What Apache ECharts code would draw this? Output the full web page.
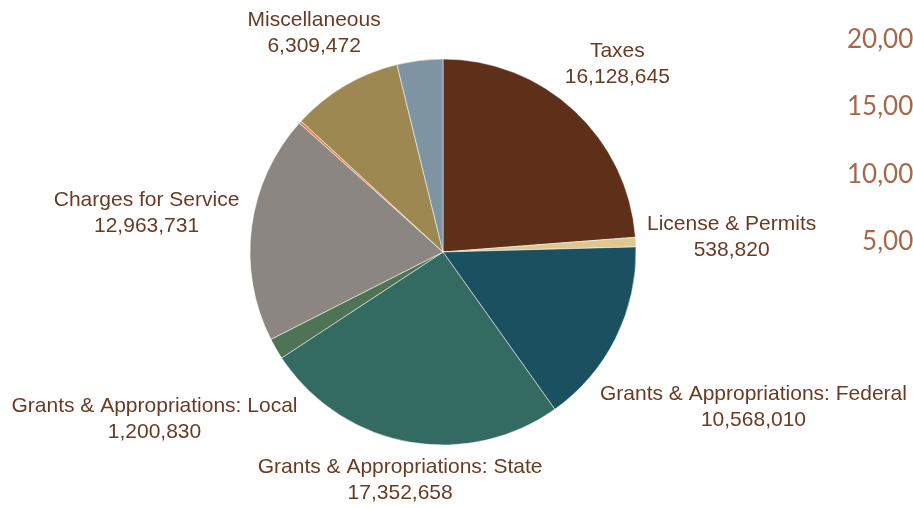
<!DOCTYPE html>
<html>
<head>
<meta charset="utf-8">
<script src="https://cdn.jsdelivr.net/npm/echarts@6/dist/echarts.min.js"></script>
<style>
  html, body { margin: 0; padding: 0; background: #ffffff; }
  #chart { width: 913px; height: 508px; }
</style>
</head>
<body>
<div id="chart"></div>
<script>
// Revenue sources (dollars)
const categories = [
  'Taxes',
  'License & Permits',
  'Grants & Appropriations: Federal',
  'Grants & Appropriations: State',
  'Grants & Appropriations: Local',
  'Charges for Service',
  'Fines & Forfeitures',
  'Miscellaneous',
  'Investment Earnings'
];
const amounts = [16128645, 538820, 10568010, 17352658, 1200830, 12963731, 150000, 6309472, 2600000];
const showLabel = [true, true, true, true, true, true, false, true, false];
const sliceColors = ['#5e3019', '#dfc78f', '#1b5061', '#336a61', '#4e7355', '#8b8681', '#d98a55', '#9e8852', '#7e94a2'];

// Value axis of the neighbouring chart
const axisTicks = [0, 5000000, 10000000, 15000000, 20000000];

const PIE_CX = 443, PIE_CY = 252, PIE_R = 193;
const LABEL_CLEAR = PIE_R + 11;
const LABEL_FONT = 21;
const LABEL_LINE = 26;
const AXIS_FONT = 26;
const AXIS_FONT_FAMILY = 'Lato';
const AXIS_FONT_WEIGHT = 400;

const total = amounts.reduce((a, b) => a + b, 0);
const midAngles = [];
(function () {
  let cum = 0;
  amounts.forEach(v => {
    midAngles.push((cum + v / 2) / total * Math.PI * 2);
    cum += v;
  });
})();

// Push each label out along its slice's mid ray until its box clears the pie
function placeLabel(idx, w, h) {
  const ux = Math.sin(midAngles[idx]);
  const uy = -Math.cos(midAngles[idx]);
  const hw = w / 2, hh = h / 2;
  let d = 0;
  for (; d < 600; d += 0.5) {
    const dx = Math.max(0, Math.abs(d * ux) - hw);
    const dy = Math.max(0, Math.abs(d * uy) - hh);
    if (Math.sqrt(dx * dx + dy * dy) >= LABEL_CLEAR) break;
  }
  return { x: PIE_CX + d * ux, y: PIE_CY + d * uy };
}

function fmt(v) {
  return String(v).replace(/\B(?=(\d{3})+(?!\d))/g, ',');
}

// Width of the longest tick label, so the clipped axis sits where it should
const measureCtx = document.createElement('canvas').getContext('2d');
measureCtx.font = AXIS_FONT_WEIGHT + ' ' + AXIS_FONT + 'px "' + AXIS_FONT_FAMILY + '"';
const longestTick = measureCtx.measureText(fmt(axisTicks[axisTicks.length - 1])).width;
const AXIS_LABEL_LEFT = 847;
const AXIS_MARGIN = 8;

const chart = echarts.init(document.getElementById('chart'), null, { renderer: 'canvas' });

const option = {
  backgroundColor: '#ffffff',
  animation: false,
  grid: {
    left: AXIS_LABEL_LEFT + longestTick + AXIS_MARGIN,
    top: 39.5,
    height: 269.3,
    width: 300
  },
  xAxis: { type: 'category', show: false, data: [] },
  yAxis: {
    type: 'value',
    min: axisTicks[0],
    max: axisTicks[axisTicks.length - 1],
    interval: axisTicks[1] - axisTicks[0],
    axisLine: { show: false },
    axisTick: { show: false },
    splitLine: { show: false },
    axisLabel: {
      margin: AXIS_MARGIN,
      color: '#a6684a',
      fontFamily: AXIS_FONT_FAMILY,
      fontWeight: AXIS_FONT_WEIGHT,
      fontSize: AXIS_FONT,
      showMinLabel: false,
      formatter: v => fmt(v)
    }
  },
  series: [{
    type: 'pie',
    center: [PIE_CX, PIE_CY],
    radius: PIE_R,
    startAngle: 90,
    clockwise: true,
    avoidLabelOverlap: false,
    itemStyle: { borderColor: '#ffffff', borderWidth: 0.5 },
    label: {
      show: true,
      position: 'outside',
      formatter: p => p.name + '\n' + fmt(p.value),
      color: '#6b3a22',
      fontFamily: 'Liberation Sans',
      fontSize: LABEL_FONT,
      lineHeight: LABEL_LINE,
      align: 'center'
    },
    labelLine: { show: false },
    labelLayout: params => {
      const r = params.labelRect;
      const p = placeLabel(params.dataIndex, r.width, r.height - 4);
      return { x: p.x, y: p.y, align: 'center', verticalAlign: 'middle' };
    },
    emphasis: { disabled: true },
    data: categories.map((name, i) => ({
      name: name,
      value: amounts[i],
      itemStyle: { color: sliceColors[i] },
      label: { show: showLabel[i] }
    }))
  }]
};

chart.setOption(option);
</script>
</body>
</html>
